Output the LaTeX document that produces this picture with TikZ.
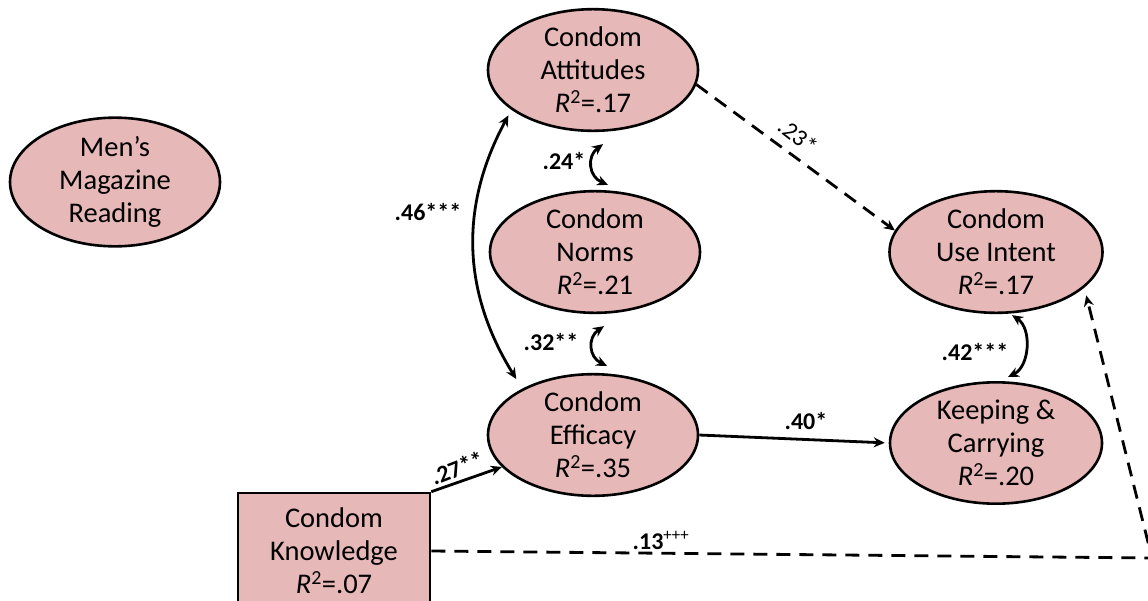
\documentclass[tikz,border=0pt]{standalone}
\usepackage{fontspec}
\setmainfont{Carlito}
\usetikzlibrary{shapes.geometric,arrows.meta}
\definecolor{nodepink}{RGB}{230,184,183}
\begin{document}
\begin{tikzpicture}[x=1pt,y=-1pt,
  var/.style={ellipse,draw=black,line width=2.6pt,fill=nodepink,inner sep=0pt,
    align=center,font=\fontsize{28.5}{33}\selectfont},
  obs/.style={rectangle,draw=black,line width=2.6pt,fill=nodepink,inner sep=0pt,
    align=center,font=\fontsize{28.5}{33}\selectfont},
  arr/.style={line width=2.8pt,-{Stealth[length=11pt,width=10pt]}},
  darr/.style={arr,dash pattern=on 14pt off 9pt},
  cov/.style={line width=2.8pt,{Stealth[length=11pt,width=10pt]}-{Stealth[length=11pt,width=10pt]}},
  coef/.style={inner sep=0pt,font=\fontsize{24}{28}\selectfont\bfseries}
]
\useasboundingbox (0,0) rectangle (1148,600);
\clip (0,0) rectangle (1148,600);

% latent variables
\node[var,minimum width=210pt,minimum height=114pt] (men) at (115,182) {Men’s\\Magazine\\Reading};
\node[var,minimum width=210pt,minimum height=116pt] (att) at (593,70) {Condom\\Attitudes\\\textit{R}\textsuperscript{2}=.17};
\node[var,minimum width=210pt,minimum height=118pt] (norms) at (595,252) {Condom\\Norms\\\textit{R}\textsuperscript{2}=.21};
\node[var,minimum width=210pt,minimum height=120pt] (eff) at (593,435) {Condom\\Efficacy\\\textit{R}\textsuperscript{2}=.35};
\node[var,minimum width=213pt,minimum height=120pt] (intent) at (996,252) {Condom\\Use Intent\\\textit{R}\textsuperscript{2}=.17};
\node[var,minimum width=212pt,minimum height=119pt] (keep) at (996,443) {Keeping \&\\Carrying\\\textit{R}\textsuperscript{2}=.20};

% observed variable
\node[obs,minimum width=192pt,minimum height=116pt] (know) at (334,551) {Condom\\Knowledge\\\textit{R}\textsuperscript{2}=.07};

\coordinate (turn) at (1152,558);

% directed paths
\draw[arr] (know.north east) -- (eff);
\draw[arr,shorten >=4pt] (eff.east) -- (keep.west);
\draw[darr] (att.-8) -- (intent.168);
\draw[darr,shorten >=8pt] (know.east) -- (turn) -- (intent.-22);

% covariances
\draw[cov] ([xshift=-12pt]att.212) to[bend right=30] ([xshift=-16pt,yshift=5pt]eff.140);
\draw[cov] ([xshift=10pt,yshift=-12pt]att.south) to[bend right=60,looseness=1.3] ([xshift=13pt,yshift=5pt]norms.north);
\draw[cov] ([xshift=9pt,yshift=-12pt]norms.south) to[bend right=60,looseness=1.3] ([xshift=14pt,yshift=7pt]eff.north);
\draw[cov] ([xshift=16pt,yshift=-1pt]intent.south) to[bend left=60] ([xshift=12pt,yshift=4pt]keep.north);

% coefficients
\node[coef] (l46) at (428,212) {.46***};
\node[coef] (l24) at (564,161) {.24*};
\node[coef] (l32) at (551,342) {.32**};
\node[coef] (l42) at (975,352) {.42***};
\node[coef] (l40) at (806,421) {.40*};
\node[coef,rotate=21] (l27) at (457,468) {.27**};
\node[coef,font=\fontsize{24}{28}\selectfont,rotate=-38] (l23) at (798,136) {.23*};
\node[coef] (l13) at (661,540) {.13\textsuperscript{\mdseries +++}};
\end{tikzpicture}
\end{document}
